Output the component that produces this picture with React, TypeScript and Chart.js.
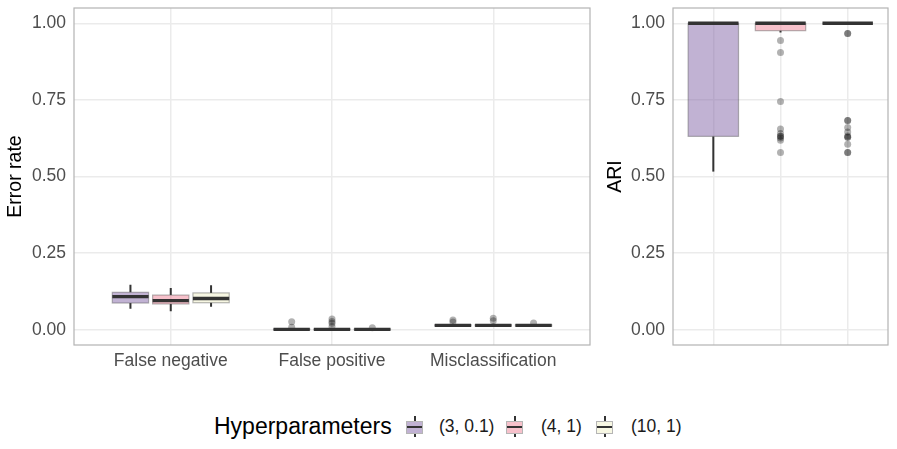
import React, { useEffect, useRef } from 'react';
import { Chart, registerables } from 'chart.js';
Chart.register(...registerables);

const metrics = ['False negative', 'False positive', 'Misclassification'];
const hyperparameters = ['(3, 0.1)', '(4, 1)', '(10, 1)'];
const yTicks = [0, 0.25, 0.5, 0.75, 1];

// Error rate box statistics, indexed [metric][hyperparameter]
const errLowerWhisker = [[0.068, 0.06, 0.075], [0, 0, 0], [0.009, 0.009, 0.009]];
const errQ1 = [[0.087, 0.084, 0.088], [0, 0, 0], [0.012, 0.012, 0.012]];
const errMedian = [[0.108, 0.095, 0.102], [0.001, 0.001, 0.001], [0.014, 0.014, 0.014]];
const errQ3 = [[0.122, 0.113, 0.12], [0.002, 0.002, 0.002], [0.016, 0.016, 0.016]];
const errUpperWhisker = [[0.147, 0.136, 0.145], [0.004, 0.005, 0.003], [0.019, 0.019, 0.018]];
const errOutliers = [
  [[], [], []],
  [[0.026, 0.008], [0.035, 0.027, 0.021, 0.01], [0.006]],
  [[0.032, 0.025], [0.037, 0.029], [0.022]],
];

// ARI box statistics, indexed [hyperparameter]
const ariLowerWhisker = [0.516, 0.97, 1.0];
const ariQ1 = [0.631, 0.976, 1.0];
const ariMedian = [1.0, 1.0, 1.0];
const ariQ3 = [1.0, 1.0, 1.0];
const ariUpperWhisker = [1.0, 1.0, 1.0];
const ariOutliers = [
  [],
  [0.944, 0.905, 0.745, 0.655, 0.64, 0.631, 0.631, 0.626, 0.618, 0.578],
  [0.967, 0.967, 0.683, 0.683, 0.66, 0.645, 0.632, 0.628, 0.628, 0.605, 0.578, 0.578],
];

const FONT = '"Liberation Sans", Arial, Helvetica, sans-serif';
const fills = ['rgba(131,101,167,0.5)', 'rgba(240,132,152,0.5)', 'rgba(240,240,200,0.5)'];
const boxBorder = 'rgba(90,90,90,0.45)';
const dark = '#333333';
const gridColor = '#ebebeb';
const tickColor = '#4d4d4d';
const pointColor = 'rgba(0,0,0,0.3)';
const dodge = [-0.25, 0, 0.25];

type Box = { x: number; w: number; lo: number; q1: number; med: number; q3: number; hi: number; fill: string };

function boxPlugin(id: string, boxes: Box[]) {
  return {
    id,
    afterDatasetsDraw(chart: any) {
      const { ctx, scales } = chart;
      const x = scales.x, y = scales.y;
      ctx.save();
      for (const b of boxes) {
        const xc = x.getPixelForValue(b.x);
        const half = Math.abs(x.getPixelForValue(b.x + b.w / 2) - xc);
        const py = (v: number) => y.getPixelForValue(v);
        ctx.strokeStyle = dark;
        ctx.lineWidth = 2;
        ctx.beginPath();
        ctx.moveTo(xc, py(b.hi));
        ctx.lineTo(xc, py(b.q3));
        ctx.moveTo(xc, py(b.q1));
        ctx.lineTo(xc, py(b.lo));
        ctx.stroke();
        const top = py(b.q3), bot = py(b.q1);
        ctx.fillStyle = b.fill;
        ctx.fillRect(xc - half, top, 2 * half, bot - top);
        ctx.strokeStyle = boxBorder;
        ctx.lineWidth = 1.2;
        ctx.strokeRect(xc - half, top, 2 * half, bot - top);
        ctx.strokeStyle = dark;
        ctx.lineWidth = 3.4;
        ctx.beginPath();
        ctx.moveTo(xc - half, py(b.med));
        ctx.lineTo(xc + half, py(b.med));
        ctx.stroke();
      }
      ctx.restore();
    },
    afterDraw(chart: any) {
      const { ctx, chartArea: a } = chart;
      ctx.save();
      ctx.strokeStyle = '#b3b3b3';
      ctx.lineWidth = 1.2;
      ctx.strokeRect(a.left, a.top, a.right - a.left, a.bottom - a.top);
      ctx.restore();
    },
  };
}

function makeOptions(yWidth: number, rightPad: number, yTitle: string, xLabels: string[]) {
  return {
    animation: false,
    responsive: false,
    maintainAspectRatio: false,
    layout: { padding: { top: 8, right: rightPad, left: 0, bottom: 0 } },
    plugins: { legend: { display: false }, tooltip: { enabled: false } },
    scales: {
      x: {
        type: 'linear',
        min: -0.6,
        max: 2.6,
        afterBuildTicks: (s: any) => {
          s.ticks = [0, 1, 2].map((v) => ({ value: v }));
        },
        afterFit: (s: any) => {
          s.height = 35;
          s.paddingLeft = 0;
          s.paddingRight = 0;
        },
        ticks: {
          callback: (v: any) => xLabels[v] ?? '',
          color: tickColor,
          font: { family: FONT, size: 17.5 },
          padding: 6,
          autoSkip: false,
          maxRotation: 0,
        },
        grid: { color: gridColor, lineWidth: 1.5, drawTicks: false },
        border: { display: false },
      },
      y: {
        type: 'linear',
        min: -0.05,
        max: 1.05,
        afterBuildTicks: (s: any) => {
          s.ticks = yTicks.map((v) => ({ value: v }));
        },
        afterFit: (s: any) => {
          s.width = yWidth;
          s.paddingTop = 0;
          s.paddingBottom = 0;
        },
        ticks: {
          callback: (v: any) => Number(v).toFixed(2),
          color: tickColor,
          font: { family: FONT, size: 17.5 },
          padding: 8,
        },
        grid: { color: gridColor, lineWidth: 1.5, drawTicks: false },
        border: { display: false },
        title: {
          display: true,
          text: yTitle,
          color: '#000000',
          font: { family: FONT, size: 19.5 },
          padding: { top: 4, bottom: 0 },
        },
      },
    },
  };
}

function LegendKey({ left, fill }: { left: number; fill: string }) {
  return (
    <div style={{ position: 'absolute', left, top: 416, width: 17, height: 21 }}>
      <div style={{ position: 'absolute', left: 7.5, top: 0, width: 2, height: 21, background: dark }} />
      <div
        style={{
          position: 'absolute',
          left: 0,
          top: 4.5,
          width: 15,
          height: 11.5,
          background: '#ffffff',
          border: `1px solid ${boxBorder}`,
        }}
      >
        <div style={{ position: 'absolute', inset: 0, background: fill }} />
        <div style={{ position: 'absolute', left: 0, right: 0, top: 4.8, height: 2, background: dark }} />
      </div>
    </div>
  );
}

export default function App() {
  const leftRef = useRef<HTMLCanvasElement>(null);
  const rightRef = useRef<HTMLCanvasElement>(null);

  useEffect(() => {
    const leftBoxes: Box[] = [];
    metrics.forEach((_, mi) =>
      hyperparameters.forEach((__, hi) =>
        leftBoxes.push({
          x: mi + dodge[hi],
          w: 0.225,
          lo: errLowerWhisker[mi][hi],
          q1: errQ1[mi][hi],
          med: errMedian[mi][hi],
          q3: errQ3[mi][hi],
          hi: errUpperWhisker[mi][hi],
          fill: fills[hi],
        })
      )
    );
    const rightBoxes: Box[] = hyperparameters.map((_, hi) => ({
      x: hi,
      w: 0.75,
      lo: ariLowerWhisker[hi],
      q1: ariQ1[hi],
      med: ariMedian[hi],
      q3: ariQ3[hi],
      hi: ariUpperWhisker[hi],
      fill: fills[hi],
    }));

    const left = new Chart(leftRef.current!, {
      type: 'scatter',
      data: {
        datasets: hyperparameters.map((h, hi) => ({
          label: h,
          data: errOutliers.flatMap((m, mi) => m[hi].map((v) => ({ x: mi + dodge[hi], y: v }))),
          pointRadius: 3.5,
          backgroundColor: pointColor,
          borderWidth: 0,
        })),
      },
      options: makeOptions(74, 10, 'Error rate', metrics) as any,
      plugins: [boxPlugin('leftBoxes', leftBoxes)],
    });

    const right = new Chart(rightRef.current!, {
      type: 'scatter',
      data: {
        datasets: hyperparameters.map((h, hi) => ({
          label: h,
          data: ariOutliers[hi].map((v) => ({ x: hi, y: v })),
          pointRadius: 3.5,
          backgroundColor: pointColor,
          borderWidth: 0,
        })),
      },
      options: makeOptions(73, 9, 'ARI', ['', '', '']) as any,
      plugins: [boxPlugin('rightBoxes', rightBoxes)],
    });

    return () => {
      left.destroy();
      right.destroy();
    };
  }, []);

  const labelStyle: React.CSSProperties = {
    position: 'absolute',
    top: 416,
    fontSize: 17.5,
    lineHeight: '20px',
    color: '#1a1a1a',
    whiteSpace: 'nowrap',
  };

  return (
    <div
      style={{
        position: 'fixed',
        left: 0,
        top: 0,
        width: 897,
        height: 449,
        background: '#ffffff',
        fontFamily: FONT,
        overflow: 'hidden',
      }}
    >
      <canvas ref={leftRef} width={600} height={380} style={{ position: 'absolute', left: 0, top: 0 }} />
      <canvas ref={rightRef} width={297} height={380} style={{ position: 'absolute', left: 600, top: 0 }} />
      <div
        style={{
          position: 'absolute',
          left: 214,
          top: 414,
          fontSize: 23,
          lineHeight: '24px',
          color: '#000000',
          whiteSpace: 'nowrap',
        }}
      >
        Hyperparameters
      </div>
      <LegendKey left={406} fill={fills[0]} />
      <div style={{ ...labelStyle, left: 439 }}>{hyperparameters[0]}</div>
      <LegendKey left={506} fill={fills[1]} />
      <div style={{ ...labelStyle, left: 541 }}>{hyperparameters[1]}</div>
      <LegendKey left={596} fill={fills[2]} />
      <div style={{ ...labelStyle, left: 631 }}>{hyperparameters[2]}</div>
    </div>
  );
}
